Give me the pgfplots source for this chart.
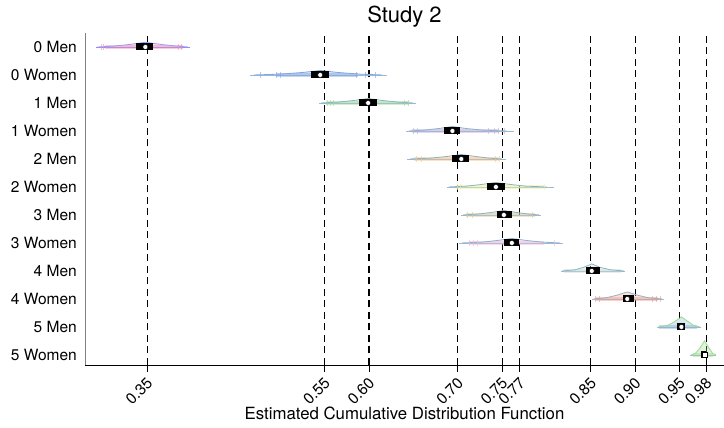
\documentclass[border=0pt]{standalone}
\usepackage{fontspec}
\setmainfont{TeX Gyre Heros}
\usepackage{pgfplots}
\pgfplotsset{compat=1.18}

\definecolor{whiskc}{HTML}{9DB8D8}
\definecolor{densc}{HTML}{8AB4C4}
\definecolor{cA}{HTML}{F28FAA}
\definecolor{cB}{HTML}{7FA4E0}
\definecolor{cC}{HTML}{9CD69A}
\definecolor{cD}{HTML}{C0AEDC}
\definecolor{cE}{HTML}{F6C088}
\definecolor{cF}{HTML}{EEF09A}
\definecolor{cG}{HTML}{D6C79C}
\definecolor{cH}{HTML}{EEB4DE}
\definecolor{cI}{HTML}{C8DCCC}
\definecolor{cJ}{HTML}{F29A88}
\definecolor{cK}{HTML}{86B2D2}
\definecolor{cL}{HTML}{9ED88E}

\begin{document}
\begin{tikzpicture}
\path[use as bounding box] (-85pt,-63pt) rectangle (639pt,365pt);
\begin{axis}[
    scale only axis,
    width=639pt, height=332pt,
    xmin=0.28, xmax=1.0,
    ymin=-0.36, ymax=11.5,
    axis x line*=bottom,
    axis y line*=left,
    x axis line style={black, line width=0.9pt},
    y axis line style={gray, line width=0.9pt},
    xtick={0.35,0.55,0.60,0.70,0.75,0.77,0.85,0.90,0.95,0.98},
    xticklabel style={rotate=45, anchor=north east, font=\fontsize{15.5}{17}\selectfont, inner sep=2pt, xshift=-2pt},
    x tick style={black, line width=0.9pt},
    tick align=outside,
    major tick length=7pt,
    xmajorgrids,
    major grid style={black, line width=1.1pt, dash pattern=on 7pt off 4.5pt},
    /pgf/number format/.cd, fixed, fixed zerofill, precision=2, assume math mode=true,
    /pgfplots/.cd,
    ytick={0,...,11},
    yticklabels={5 Women,5 Men,4 Women,4 Men,3 Women,3 Men,2 Women,2 Men,1 Women,1 Men,0 Women,0 Men},
    yticklabel style={font=\fontsize{15.5}{17}\selectfont, inner sep=2pt, xshift=1pt},
    y tick style={draw=none},
    title={Study 2},
    title style={font=\fontsize{22}{24}\selectfont, yshift=-4pt},
    xlabel={Estimated Cumulative Distribution Function},
    xlabel style={font=\fontsize{16.8}{18}\selectfont, yshift=5pt},
    whisk/.style={draw=whiskc, line width=0.8pt, no marks},
    band/.style={line width=4.5pt, opacity=0.45, no marks},
    rug/.style={only marks, mark=|, mark size=3pt, mark options={line width=0.7pt}, opacity=0.6},
    dens/.style={draw=densc, line width=0.8pt, fill opacity=0.3, no marks},
    bx/.style={black, line width=7pt, no marks},
    med/.style={only marks, mark=*, mark size=2.5pt, mark options={fill=white, draw=black, line width=0.4pt}},
]
% 0 Men
\addplot[whisk, draw=blue!45] coordinates {(0.292,11) (0.398,11)};
\addplot[band, cA] coordinates {(0.302,11) (0.390,11)};
\addplot[rug, cA] coordinates {(0.298,11) (0.301,11) (0.385,11) (0.389,11)};
\addplot[dens, fill=cA, draw=blue!40] coordinates {(0.294,11) (0.312,11.03) (0.330,11.09) (0.348,11.17) (0.366,11.09) (0.384,11.03) (0.396,11)};
\addplot[bx] coordinates {(0.338,11) (0.357,11)};
\addplot[med] coordinates {(0.348,11)};
% 0 Women
\addplot[whisk] coordinates {(0.466,10) (0.620,10)};
\addplot[band, cB] coordinates {(0.495,10) (0.588,10)};
\addplot[rug, cB] coordinates {(0.478,10) (0.496,10) (0.500,10) (0.586,10) (0.596,10) (0.607,10)};
\addplot[dens, fill=cB, draw=cB] coordinates {(0.470,10) (0.500,10.03) (0.525,10.09) (0.545,10.16) (0.565,10.09) (0.590,10.03) (0.615,10)};
\addplot[bx] coordinates {(0.535,10) (0.555,10)};
\addplot[med] coordinates {(0.545,10)};
% 1 Men
\addplot[whisk] coordinates {(0.544,9) (0.653,9)};
\addplot[band, cC] coordinates {(0.552,9) (0.645,9)};
\addplot[rug, cC] coordinates {(0.553,9) (0.557,9) (0.560,9) (0.640,9) (0.644,9)};
\addplot[dens, fill=cC] coordinates {(0.546,9) (0.565,9.03) (0.583,9.09) (0.599,9.16) (0.615,9.09) (0.633,9.03) (0.650,9)};
\addplot[bx] coordinates {(0.589,9) (0.609,9)};
\addplot[med] coordinates {(0.599,9)};
% 1 Women
\addplot[whisk] coordinates {(0.642,8) (0.763,8)};
\addplot[band, cD] coordinates {(0.649,8) (0.746,8)};
\addplot[rug, cD] coordinates {(0.650,8) (0.655,8) (0.735,8) (0.741,8) (0.746,8) (0.752,8)};
\addplot[dens, fill=cD] coordinates {(0.645,8) (0.662,8.03) (0.679,8.09) (0.694,8.16) (0.709,8.09) (0.728,8.03) (0.755,8)};
\addplot[bx] coordinates {(0.685,8) (0.703,8)};
\addplot[med] coordinates {(0.694,8)};
% 2 Men
\addplot[whisk] coordinates {(0.643,7) (0.754,7)};
\addplot[band, cE] coordinates {(0.651,7) (0.746,7)};
\addplot[rug, cE] coordinates {(0.653,7) (0.659,7) (0.742,7) (0.747,7)};
\addplot[dens, fill=cE] coordinates {(0.646,7) (0.670,7.03) (0.688,7.09) (0.704,7.16) (0.720,7.09) (0.735,7.03) (0.750,7)};
\addplot[bx] coordinates {(0.694,7) (0.713,7)};
\addplot[med] coordinates {(0.704,7)};
% 2 Women
\addplot[whisk] coordinates {(0.688,6) (0.808,6)};
\addplot[band, cF] coordinates {(0.699,6) (0.797,6)};
\addplot[rug, cF] coordinates {(0.700,6) (0.703,6) (0.798,6)};
\addplot[dens, fill=cF] coordinates {(0.690,6) (0.710,6.03) (0.727,6.09) (0.743,6.16) (0.759,6.09) (0.776,6.03) (0.800,6)};
\addplot[bx] coordinates {(0.733,6) (0.753,6)};
\addplot[med] coordinates {(0.743,6)};
% 3 Men
\addplot[whisk] coordinates {(0.704,5) (0.794,5)};
\addplot[band, cG] coordinates {(0.709,5) (0.787,5)};
\addplot[rug, cG] coordinates {(0.711,5) (0.716,5) (0.784,5)};
\addplot[dens, fill=cG] coordinates {(0.706,5) (0.722,5.03) (0.738,5.09) (0.752,5.16) (0.766,5.09) (0.780,5.03) (0.792,5)};
\addplot[bx] coordinates {(0.744,5) (0.761,5)};
\addplot[med] coordinates {(0.752,5)};
% 3 Women
\addplot[whisk] coordinates {(0.701,4) (0.819,4)};
\addplot[band, cH] coordinates {(0.713,4) (0.797,4)};
\addplot[rug, cH] coordinates {(0.713,4) (0.718,4) (0.722,4) (0.809,4)};
\addplot[dens, fill=cH] coordinates {(0.705,4) (0.728,4.03) (0.745,4.09) (0.761,4.16) (0.777,4.09) (0.795,4.03) (0.815,4)};
\addplot[bx] coordinates {(0.752,4) (0.769,4)};
\addplot[med] coordinates {(0.761,4)};
% 4 Men
\addplot[whisk] coordinates {(0.816,3) (0.889,3)};
\addplot[band, cI] coordinates {(0.820,3) (0.884,3)};
\addplot[dens, fill=cI] coordinates {(0.818,3) (0.832,3.04) (0.842,3.13) (0.851,3.25) (0.860,3.13) (0.872,3.04) (0.887,3)};
\addplot[bx] coordinates {(0.845,3) (0.860,3)};
\addplot[med] coordinates {(0.851,3)};
% 4 Women
\addplot[whisk] coordinates {(0.851,2) (0.932,2)};
\addplot[band, cJ] coordinates {(0.856,2) (0.926,2)};
\addplot[rug, cJ] coordinates {(0.855,2) (0.859,2) (0.919,2) (0.924,2) (0.928,2)};
\addplot[dens, fill=cJ] coordinates {(0.853,2) (0.867,2.04) (0.879,2.13) (0.891,2.25) (0.903,2.13) (0.915,2.04) (0.930,2)};
\addplot[bx] coordinates {(0.886,2) (0.899,2)};
\addplot[med] coordinates {(0.891,2)};
% 5 Men
\addplot[whisk] coordinates {(0.924,1) (0.974,1)};
\addplot[band, cK] coordinates {(0.927,1) (0.970,1)};
\addplot[dens, fill=cK, draw=cL] coordinates {(0.926,1) (0.936,1.05) (0.944,1.18) (0.952,1.36) (0.960,1.18) (0.966,1.05) (0.973,1)};
\addplot[bx] coordinates {(0.947,1) (0.956,1)};
\addplot[med] coordinates {(0.952,1)};
% 5 Women
\addplot[whisk] coordinates {(0.962,0) (0.991,0)};
\addplot[band, cL] coordinates {(0.965,0) (0.988,0)};
\addplot[dens, fill=cL, draw=cL] coordinates {(0.963,0) (0.968,0.06) (0.973,0.25) (0.978,0.5) (0.983,0.25) (0.987,0.06) (0.991,0)};
\addplot[bx] coordinates {(0.974,0) (0.980,0)};
\addplot[med, mark=square*] coordinates {(0.978,0)};
\end{axis}
\end{tikzpicture}
\end{document}
